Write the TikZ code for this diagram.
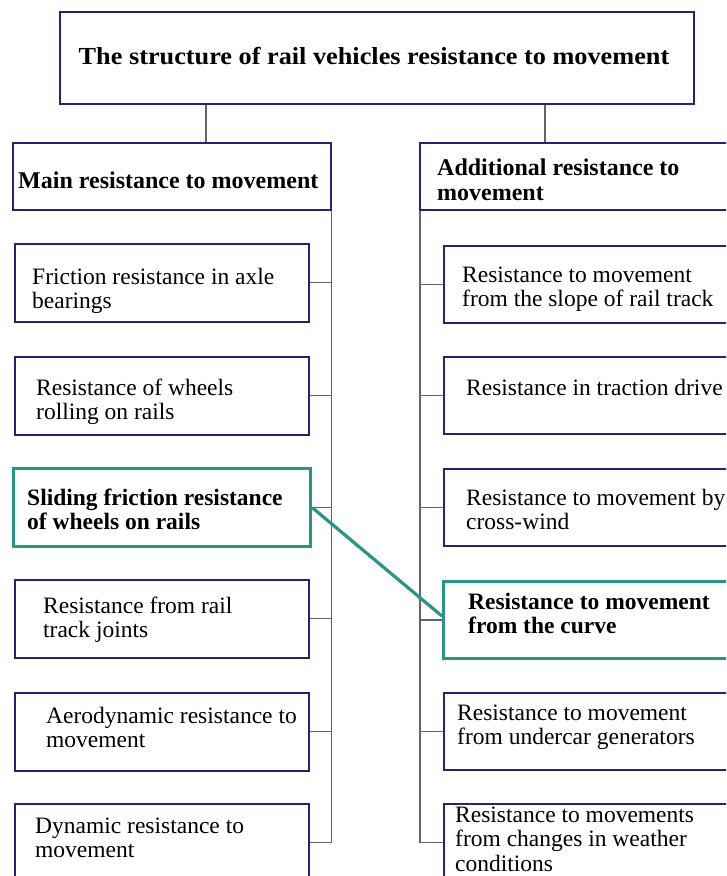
\documentclass[tikz,border=0pt]{standalone}
\usepackage{fontspec}
\setmainfont{Liberation Serif}
\definecolor{navy}{RGB}{35,35,125}
\definecolor{tealc}{RGB}{38,150,136}
\definecolor{connc}{RGB}{100,100,100}
\newcommand\mlines[1]{\begin{tabular}[t]{@{}l@{}}#1\end{tabular}}
\tikzset{
 box/.style={draw=navy, line width=1.6pt, rectangle, anchor=north west, inner sep=0pt},
 hibox/.style={draw=tealc, line width=3.2pt, rectangle, anchor=north west, inner sep=0pt},
 txt/.style={anchor=base west, inner sep=0pt, font=\fontsize{23.5}{24.5}\selectfont},
 btxt/.style={anchor=base west, inner sep=0pt, font=\fontsize{23.5}{24.5}\selectfont\bfseries},
 htxt/.style={anchor=base west, inner sep=0pt, font=\fontsize{24}{25}\selectfont\bfseries},
 link/.style={draw=connc, line width=1.3pt},
 hilink/.style={draw=tealc, line width=3.2pt},
}
\begin{document}
\begin{tikzpicture}[x=1pt,y=-1pt]
\useasboundingbox (0,0) rectangle (726,876);
\clip (0,0) rectangle (726,876);
\fill[white] (0,0) rectangle (726,876);

% title
\node[box, minimum width=634pt, minimum height=92pt] (top) at (59,11) {};
\node[htxt, anchor=base, font=\fontsize{24.5}{26}\selectfont\bfseries] (topt) at (374,64) {\scalebox{1.072}[1]{The structure of rail vehicles resistance to movement}};

% headers
\node[box, minimum width=318pt, minimum height=67pt] (hl) at (12,142) {};
\node[htxt] (hlt) at (18,188) {Main resistance to movement};
\node[box, minimum width=340pt, minimum height=67pt] (hr) at (419,142) {};
\node[htxt] (hrt) at (437,175) {\mlines{Additional resistance to\\movement}};

% left column
\node[box, minimum width=294pt, minimum height=78pt] (l1) at (14,243) {};
\node[txt] (l1t) at (32,284) {\mlines{Friction resistance in axle\\bearings}};
\node[box, minimum width=294pt, minimum height=78pt] (l2) at (14,356) {};
\node[txt] (l2t) at (36,395) {\mlines{Resistance of wheels\\rolling on rails}};
\node[hibox, minimum width=297pt, minimum height=78pt] (l3) at (12,467) {};
\node[btxt] (l3t) at (27,505) {\mlines{Sliding friction resistance\\of wheels on rails}};
\node[box, minimum width=294pt, minimum height=78pt] (l4) at (14,579) {};
\node[txt] (l4t) at (43,613) {\mlines{Resistance from rail\\track joints}};
\node[box, minimum width=294pt, minimum height=78pt] (l5) at (14,692) {};
\node[txt] (l5t) at (46,723) {\mlines{Aerodynamic resistance to\\movement}};
\node[box, minimum width=294pt, minimum height=78pt] (l6) at (14,803) {};
\node[txt] (l6t) at (35,833) {\mlines{Dynamic resistance to\\movement}};

% right column
\node[box, minimum width=320pt, minimum height=77pt] (r1) at (443,245) {};
\node[txt] (r1t) at (462,282) {\mlines{Resistance to movement\\from the slope of rail track}};
\node[box, minimum width=320pt, minimum height=77pt] (r2) at (443,356) {};
\node[txt] (r2t) at (466,395) {Resistance in traction drive};
\node[box, minimum width=320pt, minimum height=77pt] (r3) at (443,468) {};
\node[txt] (r3t) at (466,505) {\mlines{Resistance to movement by\\cross-wind}};
\node[hibox, minimum width=322pt, minimum height=77pt] (r4) at (442,580) {};
\node[btxt] (r4t) at (468,609) {\mlines{Resistance to movement\\from the curve}};
\node[box, minimum width=320pt, minimum height=77pt] (r5) at (443,692) {};
\node[txt] (r5t) at (457,720) {\mlines{Resistance to movement\\from undercar generators}};
\node[box, minimum width=320pt, minimum height=78pt] (r6) at (443,803) {};
\node[txt] (r6t) at (455,822) {\mlines{Resistance to movements\\from changes in weather\\conditions}};

% connectors
\coordinate (cl) at (206,0);
\coordinate (cr) at (545,0);
\draw[link] (top.south -| cl) -- (hl.north -| cl);
\draw[link] (top.south -| cr) -- (hr.north -| cr);
\draw[link] (hl.south east) -- (hl.south east |- l6.east);
\foreach \i in {1,...,6} \draw[link] (l\i.east) -- (l\i.east -| hl.south east);
\draw[link] ([xshift=1pt]hr.south west) -- ([xshift=1pt]hr.south west |- r6.west);
\foreach \i in {1,...,6} \draw[link] (r\i.west) -- ([xshift=1pt]r\i.west -| hr.south west);

% highlight link
\draw[hilink] (l3.east) -- ([yshift=4pt]r4.west);
\end{tikzpicture}
\end{document}
